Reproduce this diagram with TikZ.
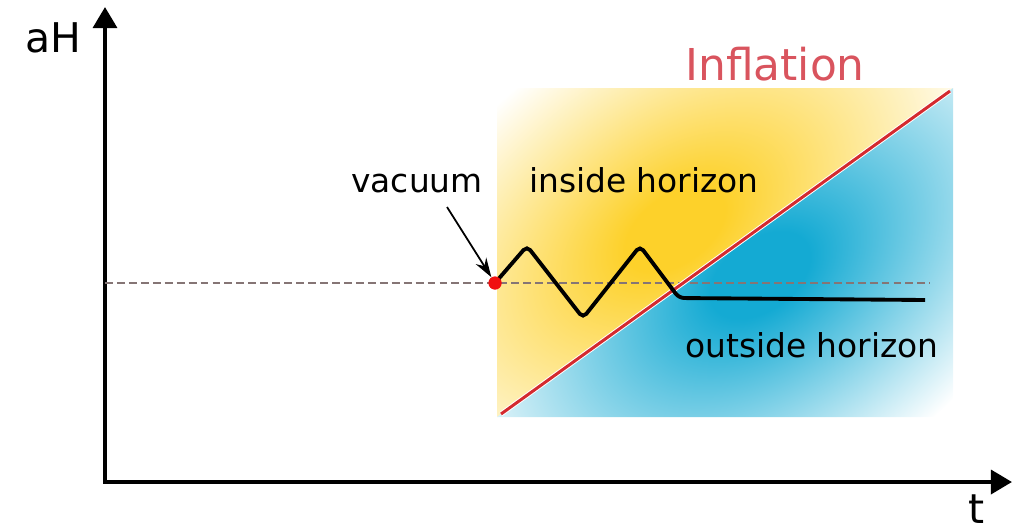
\documentclass[tikz,border=0pt]{standalone}
\usepackage{fontspec}
\setmainfont{DejaVu Sans}
\usetikzlibrary{arrows.meta, positioning}
\definecolor{linered}{HTML}{D42A2F}
\definecolor{titlered}{HTML}{D9545E}
\definecolor{dotred}{HTML}{F01010}
\definecolor{dashgray}{HTML}{857575}
\definecolor{sunyellow}{HTML}{FDD12A}
\definecolor{skyblue}{HTML}{14AAD3}
\pgfdeclareradialshading{glowyellow}{\pgfpoint{0bp}{0bp}}{color(0bp)=(sunyellow); color(4bp)=(sunyellow); color(25bp)=(white); color(50bp)=(white)}
\pgfdeclareradialshading{glowblue}{\pgfpoint{0bp}{0bp}}{color(0bp)=(skyblue); color(4bp)=(skyblue); color(25bp)=(white); color(50bp)=(white)}

\begin{document}
\begin{tikzpicture}[x=0.02cm, y=0.02cm,
    axis/.style={line width=2.5pt, line join=miter, {Triangle[length=12pt, width=13.5pt]}-{Triangle[length=12pt, width=13.5pt]}},
    pointer/.style={line width=1pt, -{Stealth[length=11pt, width=7pt]}},
    wave/.style={line width=2.2pt, rounded corners=3pt},
    lbl/.style={inner sep=0pt, anchor=base, font=\fontsize{18.7}{22}\selectfont},
    axlbl/.style={inner sep=0pt, anchor=base, font=\fontsize{23.3}{28}\selectfont}]
    \useasboundingbox (0,0) rectangle (1026,529);

    % corners of the coloured block
    \coordinate (bl) at (497,112);
    \coordinate (tl) at (497,441);
    \coordinate (tr) at (953,441);
    \coordinate (br) at (953,112);

    % inside horizon (yellow)
    \begin{scope}
        \clip (bl) -- (tl) -- (tr) -- cycle;
        \begin{scope}[transform canvas={rotate around={35.7:(675,300)}}]
            \shade[shading=glowyellow] (675,300) ellipse (350 and 210);
        \end{scope}
    \end{scope}
    % outside horizon (blue)
    \begin{scope}
        \clip (bl) -- (br) -- (tr) -- cycle;
        \begin{scope}[transform canvas={rotate around={35.7:(760,254)}}]
            \shade[shading=glowblue] (760,254) ellipse (350 and 220);
        \end{scope}
    \end{scope}

    % axes
    \coordinate (O) at (105,47);
    \coordinate (ytop) at (105,522);
    \coordinate (xend) at (1012,47);
    \draw[axis] (ytop) -- (O) -- (xend);
    \node[axlbl] (ah) at (53,477) {aH};
    \node[axlbl] (tt) at (977,6) {t};

    % reference level
    \coordinate (dl) at (105,246);
    \coordinate (dr) at (930,246);
    \draw[dashgray, line width=1.1pt, dash pattern=on 4.5pt off 2.3pt] (dl) -- (dr);

    % horizon line
    \coordinate (ia) at (501,115);
    \coordinate (ib) at (950,438);
    \draw[white, line width=2.8pt] (ia) -- (ib);
    \draw[linered, line width=1.7pt] (ia) -- (ib);
    \node[lbl, titlered, font=\fontsize{25}{30}\selectfont] (infl) at (775,449) {Inflation};

    % mode
    \node[circle, fill=dotred, inner sep=0pt, minimum size=0.26cm] (dot) at (495,246) {};
    \draw[wave] (dot.center) -- (527,283) -- (583,211) -- (640,283) -- (679,231) -- (925,229);
    \node[circle, fill=dotred, inner sep=0pt, minimum size=0.26cm] at (dot) {};

    \node[lbl] (vac) at (417,337) {vacuum};
    \coordinate (vtail) at (447,322);
    \draw[pointer] (vtail) -- (dot);

    \node[lbl] (inside) at (644,337) {inside horizon};
    \node[lbl] (outside) at (812,172) {outside horizon};
\end{tikzpicture}
\end{document}
